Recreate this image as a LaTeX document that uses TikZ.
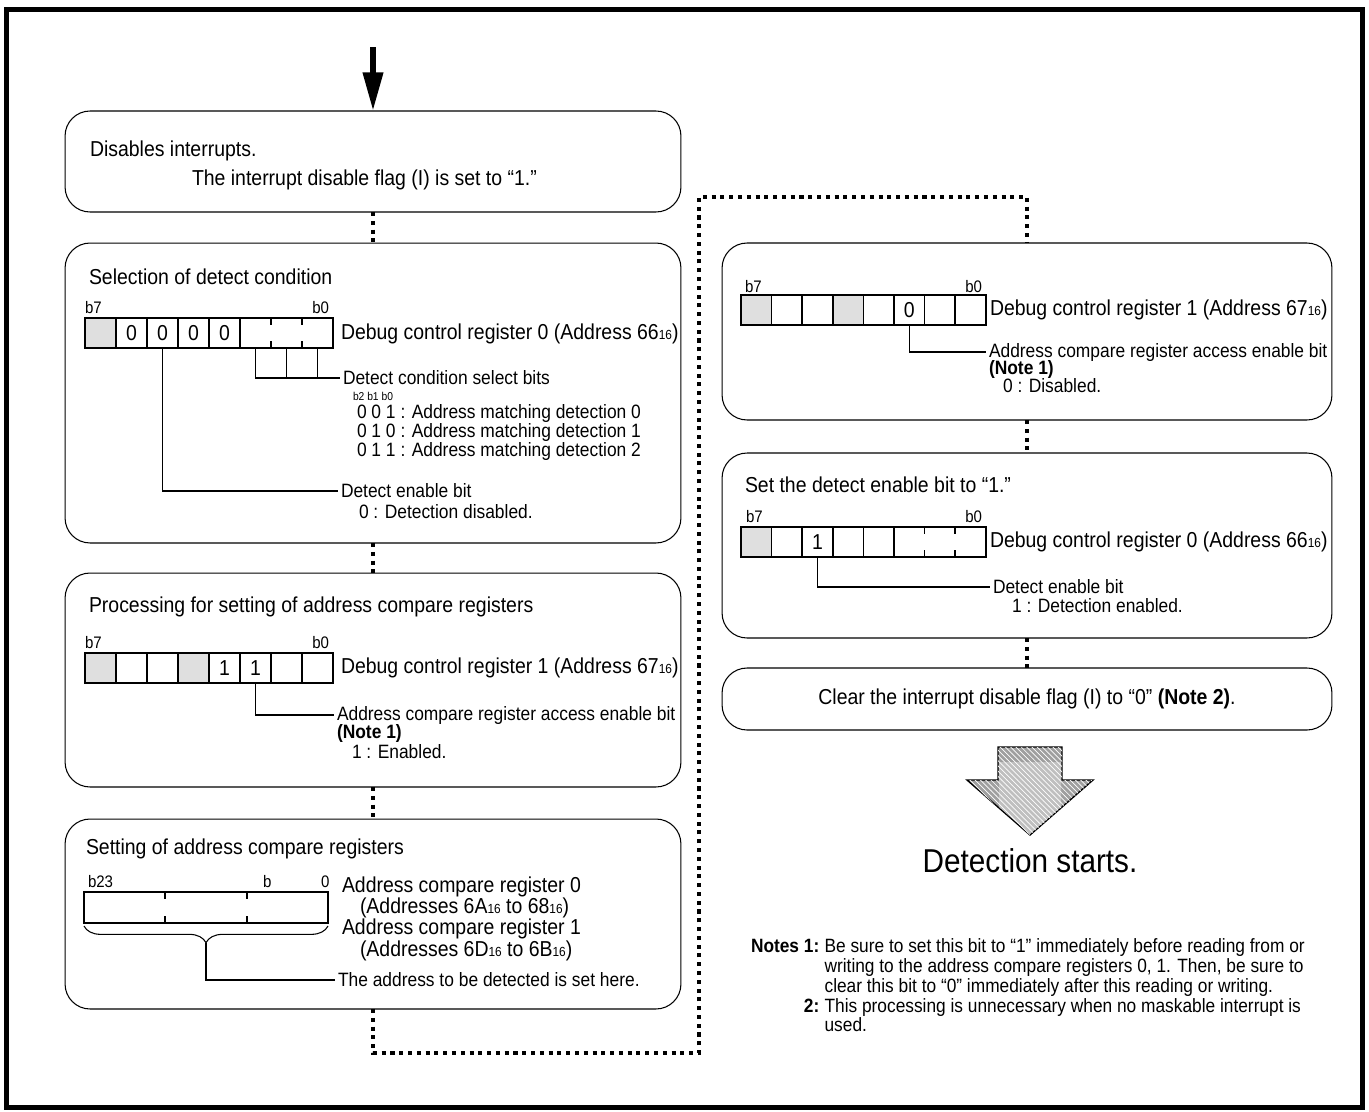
\documentclass[tikz,border=0pt]{standalone}
\usepackage{fontspec}
\setmainfont{Liberation Sans}[FakeStretch=0.9]
\usetikzlibrary{arrows.meta, decorations.pathreplacing, patterns, positioning}

\newcommand{\hexs}[1]{{\fontsize{7.5}{8}\selectfont #1}}

\begin{document}
\begin{tikzpicture}[
    x=0.02cm, y=-0.02cm,
    every node/.style={inner sep=0pt, outer sep=0pt},
    stepbox/.style={draw, rounded corners=0.5cm, line width=0.6pt},
    flow/.style={line width=2.3pt, dash pattern=on 2.3pt off 2.7pt},
    txt/.style={anchor=west, font=\fontsize{12.3}{14}\selectfont},
    desc/.style={anchor=west, font=\fontsize{11}{12}\selectfont},
    bitno/.style={anchor=west, font=\fontsize{9.5}{10}\selectfont},
    cell/.style={minimum width=0.62cm, minimum height=0.6cm, font=\fontsize{12.3}{14}\selectfont},
    rcell/.style={cell, minimum width=0.612cm},
    reg/.style={line width=0.85pt},
    lead/.style={line width=0.6pt, shorten >=1.5pt}
]
\useasboundingbox (0,0) rectangle (1369,1112);
\draw[line width=2.5pt] (6.5,9.5) rectangle (1362.5,1107.5);

% flow boxes
\node[stepbox, minimum width=12.32cm, minimum height=2.02cm] (bx1) at (373,161.5) {};
\node[stepbox, minimum width=12.32cm, minimum height=6cm] (bx2) at (373,393) {};
\node[stepbox, minimum width=12.32cm, minimum height=4.28cm] (bx3) at (373,680) {};
\node[stepbox, minimum width=12.32cm, minimum height=3.8cm] (bx4) at (373,914) {};
\node[stepbox, minimum width=12.2cm, minimum height=3.54cm] (bx5) at (1027,331.5) {};
\node[stepbox, minimum width=12.2cm, minimum height=3.7cm] (bx6) at (1027,545.5) {};
\node[stepbox, minimum width=12.2cm, minimum height=1.24cm,
      font=\fontsize{12.3}{14}\selectfont] (bx7) at (1027,699)
      {Clear the interrupt disable flag (I) to “0” \textbf{(Note 2)}.};

% entry arrow and dotted flow
\coordinate (spine) at (373,47);
\coordinate (turnA) at (699,1053);
\coordinate (turnB) at (699,197);
\draw[line width=3.4pt, -{Triangle[width=11pt, length=22pt]}] (spine) -- (bx1.north -| spine);
\draw[flow] (bx1.south -| spine) -- (bx2.north -| spine);
\draw[flow] (bx2.south -| spine) -- (bx3.north -| spine);
\draw[flow] (bx3.south -| spine) -- (bx4.north -| spine);
\draw[flow] (bx4.south -| spine) |- (turnA) -- (turnB) -| (bx5.north);
\draw[flow] (bx5.south) -- (bx6.north);
\draw[flow] (bx6.south) -- (bx7.north);

% box 1
\node[txt] (dis) at (90,151) {Disables interrupts.};
\node[txt] (iflag) at (192,180) {The interrupt disable flag (I) is set to “1.”};

% box 2
\node[txt] (sel) at (89,277) {Selection of detect condition};
\node[bitno] (a7) at (85,308) {b7};
\node[bitno, anchor=east] (a0) at (329,308) {b0};
\foreach \i/\v in {0/{},1/0,2/0,3/0,4/0,5/{},6/{},7/{}}
    \node[cell] (ra\i) at ({100.5+31*\i},333) {\v};
\fill[gray!25] (ra0.north west) rectangle (ra0.south east);
\draw[reg] (ra0.north west) rectangle (ra7.south east);
\foreach \i in {1,...,5} \draw[reg] (ra\i.north west) -- (ra\i.south west);
\foreach \i in {6,7} \draw[reg] (ra\i.north west) -- ++(0,7) (ra\i.south west) -- ++(0,-7);
\node[txt] (dcr0) at (341,334) {Debug control register 0 (Address 66\hexs{16})};
\node[desc] (dcs) at (343,378) {Detect condition select bits};
\draw[lead] (ra5.south) |- (dcs.west);
\foreach \i in {6,7} \draw[lead, shorten >=0pt] (ra\i.south) -- (ra\i.south |- dcs.west);
\node[anchor=west, font=\fontsize{6.5}{7}\selectfont] (bbb) at (353,396) {b2 b1 b0};
\node[desc] (m0) at (357,413) {0 0 1 : Address matching detection 0};
\node[desc] (m1) at (357,432) {0 1 0 : Address matching detection 1};
\node[desc] (m2) at (357,451) {0 1 1 : Address matching detection 2};
\node[desc] (den) at (341,491) {Detect enable bit};
\node[desc] (dis0) at (359,512) {0 : Detection disabled.};
\draw[lead] (ra2.south) |- (den.west);

% box 3
\node[txt] (proc) at (89,607) {Processing for setting of address compare registers};
\node[bitno] (b7b) at (85,643) {b7};
\node[bitno, anchor=east] (b0b) at (329,643) {b0};
\foreach \i/\v in {0/{},1/{},2/{},3/{},4/1,5/1,6/{},7/{}}
    \node[cell] (rb\i) at ({100.5+31*\i},668) {\v};
\fill[gray!25] (rb0.north west) rectangle (rb0.south east);
\fill[gray!25] (rb3.north west) rectangle (rb3.south east);
\draw[reg] (rb0.north west) rectangle (rb7.south east);
\foreach \i in {1,...,7} \draw[reg] (rb\i.north west) -- (rb\i.south west);
\node[txt] (dcr1) at (341,668) {Debug control register 1 (Address 67\hexs{16})};
\node[desc] (acc) at (337,715) {Address compare register access enable bit};
\node[desc] (na) at (337,733) {\bfseries (Note 1)};
\node[desc] (en1) at (352,752) {1 : Enabled.};
\draw[lead] (rb5.south) |- (acc.west);

% box 4
\node[txt] (setc) at (86,849) {Setting of address compare registers};
\node[bitno] (b23) at (88,882) {b23};
\node[bitno] (bm) at (263,882) {b};
\node[bitno] (bz) at (321,882) {0};
\node[draw, line width=0.85pt, minimum width=4.88cm, minimum height=0.62cm] (acr) at (206,907.5) {};
\foreach \xx in {165,247} \draw[reg] (\xx,892) -- (\xx,899) (\xx,923) -- (\xx,916);
\draw[lead, shorten >=0pt, decorate, decoration={brace, mirror, amplitude=9.5pt}] (84,926) -- (328,926);
\coordinate (brtip) at (206,943);
\node[desc] (here) at (338,980) {The address to be detected is set here.};
\draw[lead] (brtip) |- (here.west);
\node[txt] (ac0) at (342,887) {Address compare register 0};
\node[txt] (ad0) at (360,908) {(Addresses 6A\hexs{16} to 68\hexs{16})};
\node[txt] (ac1) at (342,929) {Address compare register 1};
\node[txt] (ad1) at (360,951) {(Addresses 6D\hexs{16} to 6B\hexs{16})};

% box 5
\node[bitno] (c7) at (745,287) {b7};
\node[bitno, anchor=east] (c0) at (982,287) {b0};
\foreach \i/\v in {0/{},1/{},2/{},3/{},4/{},5/0,6/{},7/{}}
    \node[rcell] (rc\i) at ({756.3+30.6*\i},310) {\v};
\fill[gray!25] (rc0.north west) rectangle (rc0.south east);
\fill[gray!25] (rc3.north west) rectangle (rc3.south east);
\draw[reg] (rc0.north west) rectangle (rc7.south east);
\foreach \i in {1,...,7} \draw[reg] (rc\i.north west) -- (rc\i.south west);
\node[txt] (dcr1b) at (990,310) {Debug control register 1 (Address 67\hexs{16})};
\node[desc] (acc2) at (989,352) {Address compare register access enable bit};
\node[desc] (nb) at (989,369) {\bfseries (Note 1)};
\node[desc] (dis2) at (1003,386) {0 : Disabled.};
\draw[lead] (rc5.south) |- (acc2.west);

% box 6
\node[txt] (setd) at (745,485) {Set the detect enable bit to “1.”};
\node[bitno] (d7) at (746,517) {b7};
\node[bitno, anchor=east] (d0) at (982,517) {b0};
\foreach \i/\v in {0/{},1/{},2/1,3/{},4/{},5/{},6/{},7/{}}
    \node[rcell] (rd\i) at ({756.3+30.6*\i},542) {\v};
\fill[gray!25] (rd0.north west) rectangle (rd0.south east);
\draw[reg] (rd0.north west) rectangle (rd7.south east);
\foreach \i in {1,...,5} \draw[reg] (rd\i.north west) -- (rd\i.south west);
\foreach \i in {6,7} \draw[reg] (rd\i.north west) -- ++(0,7) (rd\i.south west) -- ++(0,-7);
\node[txt] (dcr0b) at (990,542) {Debug control register 0 (Address 66\hexs{16})};
\node[desc] (den2) at (993,587) {Detect enable bit};
\node[desc] (en2) at (1012,606) {1 : Detection enabled.};
\draw[lead] (rd2.south) |- (den2.west);

% big arrow
\draw[line width=0.8pt, fill=gray!75, postaction={pattern=north west lines, pattern color=white}]
    (998,747) -- (1062,747) -- (1062,780) -- (1093,780) -- (1030,835) -- (967,780) -- (998,780) -- cycle;
\fill[gray!50, postaction={pattern=north west lines, pattern color=white}]
    (999,762) -- (1061,762) -- (1061,807) -- (1030,834) -- (999,807) -- cycle;
\node[font=\fontsize{18.8}{22}\selectfont] (start) at (1030,861) {Detection starts.};

% notes
\node[anchor=north west, font=\fontsize{10.95}{10.9}\selectfont] (notes) at (751,939) {%
  \begin{tabular}{@{}r@{\hspace{3pt}}l@{}}
  \textbf{Notes 1:} & Be sure to set this bit to “1” immediately before reading from or\\
   & writing to the address compare registers 0, 1. Then, be sure to\\
   & clear this bit to “0” immediately after this reading or writing.\\
  \textbf{2:} & This processing is unnecessary when no maskable interrupt is\\
   & used.
  \end{tabular}};
\end{tikzpicture}
\end{document}
